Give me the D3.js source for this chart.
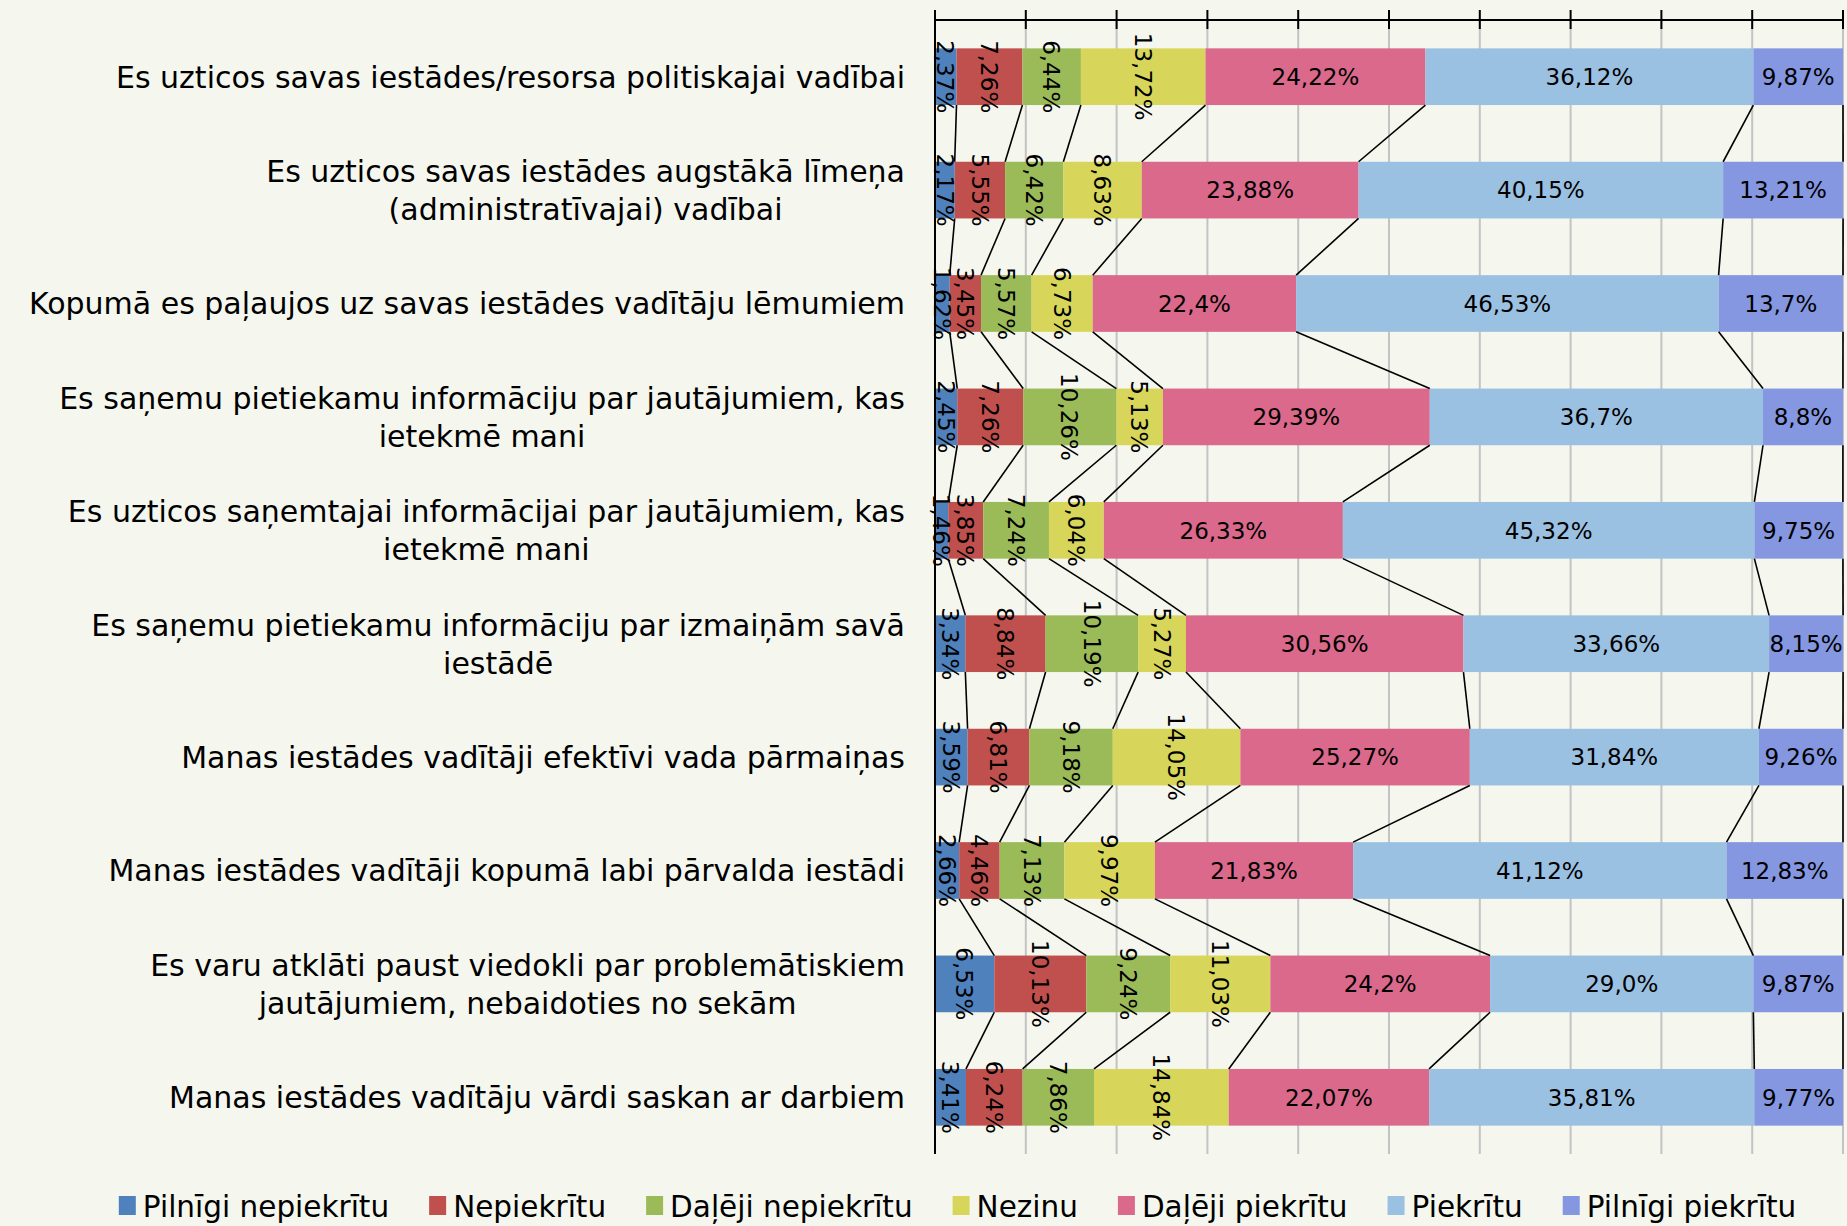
<!DOCTYPE html>
<html>
<head>
<meta charset="utf-8">
<script src="https://cdn.jsdelivr.net/npm/d3@7"></script>
<style>
  body { margin: 0; background: #F5F7EF; }
  svg { display: block; font-family: "DejaVu Sans", Lato, sans-serif; }
</style>
</head>
<body>
<div id="chart"></div>
<script>
// categories, top to bottom (each entry = lines of the wrapped label)
const categories = [
  ['Es uzticos savas iestādes/resorsa politiskajai vadībai'],
  ['Es uzticos savas iestādes augstākā līmeņa', '(administratīvajai) vadībai'],
  ['Kopumā es paļaujos uz savas iestādes vadītāju lēmumiem'],
  ['Es saņemu pietiekamu informāciju par jautājumiem, kas', 'ietekmē mani'],
  ['Es uzticos saņemtajai informācijai par jautājumiem, kas', 'ietekmē mani'],
  ['Es saņemu pietiekamu informāciju par izmaiņām savā', 'iestādē'],
  ['Manas iestādes vadītāji efektīvi vada pārmaiņas'],
  ['Manas iestādes vadītāji kopumā labi pārvalda iestādi'],
  ['Es varu atklāti paust viedokli par problemātiskiem', 'jautājumiem, nebaidoties no sekām'],
  ['Manas iestādes vadītāju vārdi saskan ar darbiem']
];

const seriesNames = ['Pilnīgi nepiekrītu', 'Nepiekrītu', 'Daļēji nepiekrītu', 'Nezinu',
  'Daļēji piekrītu', 'Piekrītu', 'Pilnīgi piekrītu'];
const seriesColors = ['#4F81BD', '#C0504D', '#9BBB59', '#D7D65A', '#DA698C', '#9BC1E2', '#8497E0'];

const pilnigiNepiekritu = [2.37, 2.17, 1.62, 2.45, 1.46, 3.34, 3.59, 2.66, 6.53, 3.41];
const nepiekritu = [7.26, 5.55, 3.45, 7.26, 3.85, 8.84, 6.81, 4.46, 10.13, 6.24];
const daljejiNepiekritu = [6.44, 6.42, 5.57, 10.26, 7.24, 10.19, 9.18, 7.13, 9.24, 7.86];
const nezinu = [13.72, 8.63, 6.73, 5.13, 6.04, 5.27, 14.05, 9.97, 11.03, 14.84];
const daljejiPiekritu = [24.22, 23.88, 22.4, 29.39, 26.33, 30.56, 25.27, 21.83, 24.2, 22.07];
const piekritu = [36.12, 40.15, 46.53, 36.7, 45.32, 33.66, 31.84, 41.12, 29.0, 35.81];
const pilnigiPiekritu = [9.87, 13.21, 13.7, 8.8, 9.75, 8.15, 9.26, 12.83, 9.87, 9.77];

const values = [pilnigiNepiekritu, nepiekritu, daljejiNepiekritu, nezinu, daljejiPiekritu, piekritu, pilnigiPiekritu];

const width = 1847, height = 1226;
const plotLeft = 935, plotRight = 1843, plotTop = 20, plotBottom = 1154;

const svg = d3.select('#chart').append('svg')
  .attr('width', width)
  .attr('height', height);

const x = d3.scaleLinear().domain([0, 100]).range([plotLeft, plotRight]);
const y = d3.scaleBand()
  .domain(d3.range(categories.length))
  .range([plotTop, plotBottom])
  .paddingInner(0.5)
  .paddingOuter(0.25);

// stacked table built from the series arrays
const table = categories.map((c, i) => {
  const row = { i: i };
  seriesNames.forEach((s, j) => row[s] = values[j][i]);
  return row;
});
const stacked = d3.stack().keys(seriesNames)(table);

const fmt = v => (v % 1 === 0 ? v.toFixed(1) : String(v)).replace('.', ',') + '%';

// gridlines
svg.append('g')
  .selectAll('line')
  .data(x.ticks(10).slice(1))
  .enter()
  .append('line')
  .attr('x1', d => x(d)).attr('x2', d => x(d))
  .attr('y1', plotTop).attr('y2', plotBottom)
  .attr('stroke', '#C3C3C3')
  .attr('stroke-width', 2);

// bars
const layers = svg.append('g')
  .selectAll('g')
  .data(stacked)
  .enter()
  .append('g')
  .attr('fill', (d, j) => seriesColors[j]);

layers.selectAll('rect')
  .data(d => d)
  .enter()
  .append('rect')
  .attr('x', d => x(d[0]))
  .attr('y', d => y(d.data.i))
  .attr('width', d => x(d[1]) - x(d[0]))
  .attr('height', y.bandwidth());

// series lines between bars
stacked.forEach(layer => {
  const segs = d3.pairs(layer);
  svg.append('g')
    .selectAll('line')
    .data(segs)
    .enter()
    .append('line')
    .attr('x1', d => x(d[0][1]))
    .attr('y1', d => y(d[0].data.i) + y.bandwidth())
    .attr('x2', d => x(d[1][1]))
    .attr('y2', d => y(d[1].data.i))
    .attr('stroke', '#000')
    .attr('stroke-width', 1.6);
});

// top axis with crossing ticks
svg.append('line')
  .attr('x1', plotLeft).attr('x2', plotRight)
  .attr('y1', plotTop).attr('y2', plotTop)
  .attr('stroke', '#000').attr('stroke-width', 2);
svg.append('g')
  .selectAll('line')
  .data(x.ticks(10))
  .enter()
  .append('line')
  .attr('x1', d => x(d)).attr('x2', d => x(d))
  .attr('y1', plotTop - 10).attr('y2', plotTop + 9)
  .attr('stroke', '#000').attr('stroke-width', 2);

// left axis
svg.append('line')
  .attr('x1', plotLeft).attr('x2', plotLeft)
  .attr('y1', plotTop - 10).attr('y2', plotBottom)
  .attr('stroke', '#000').attr('stroke-width', 2);

// data labels: first four series are rotated
const labelLayer = svg.append('g');
stacked.forEach((layer, j) => {
  labelLayer.append('g')
    .selectAll('text')
    .data(layer)
    .enter()
    .append('text')
    .attr('transform', d => {
      const cx = (x(d[0]) + x(d[1])) / 2;
      const cy = y(d.data.i) + y.bandwidth() / 2;
      return j < 4 ? `translate(${cx},${cy}) rotate(90)` : `translate(${cx},${cy})`;
    })
    .attr('text-anchor', 'middle')
    .attr('dy', '0.36em')
    .attr('fill', '#000')
    .style('font-size', '23px')
    .text(d => fmt(d.data[layer.key]));
});

// category labels
const labelX = 905;
categories.forEach((lines, i) => {
  const g = svg.append('g');
  const lh = 38;
  const cy = y(i) + y.bandwidth() / 2;
  const texts = lines.map((t, k) => g.append('text')
    .attr('y', cy + (k - (lines.length - 1) / 2) * lh)
    .attr('dy', '0.36em')
    .attr('text-anchor', 'middle')
    .style('font-size', '30px')
    .attr('fill', '#000')
    .text(t));
  const maxW = d3.max(texts, t => t.node().getComputedTextLength());
  texts.forEach(t => t.attr('x', labelX - maxW / 2));
});

// legend
const legend = svg.append('g');
let lx = 0;
seriesNames.forEach((s, j) => {
  const item = legend.append('g').attr('transform', `translate(${lx},0)`);
  item.append('rect')
    .attr('x', 0).attr('y', -10)
    .attr('width', 17).attr('height', 19)
    .attr('fill', seriesColors[j]);
  const t = item.append('text')
    .attr('x', 24).attr('dy', '0.36em')
    .style('font-size', '29.5px')
    .text(s);
  lx += 24 + t.node().getComputedTextLength() + 40;
});
const legendW = lx - 40;
legend.attr('transform', `translate(${(126 + 1789) / 2 - legendW / 2},1206)`);
</script>
</body>
</html>
